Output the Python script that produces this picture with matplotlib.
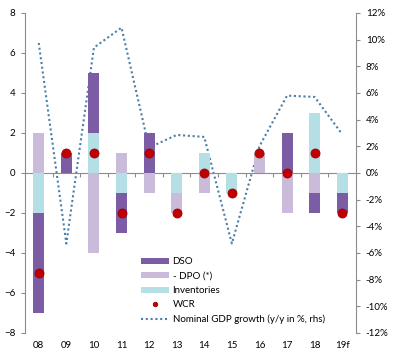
import numpy as np
import matplotlib
matplotlib.use("Agg")
import matplotlib.pyplot as plt
from matplotlib.ticker import FuncFormatter

plt.rcParams['font.family'] = ['Lato', 'DejaVu Sans']

years = ["08", "09", "10", "11", "12", "13", "14", "15", "16", "17", "18", "19f"]
dso = [-5, 1, 3, -2, 2, 0, 0, 0, 0, 2, -1, -1]
dpo = [2, 0, -4, 1, -1, -1, -1, 0, 1, -2, -1, 0]
inventories = [-2, 0, 2, -1, 0, -1, 1, -1, 0, 0, 3, -1]
wcr = [-5, 1, 1, -2, 1, -2, 0, -1, 1, 0, 1, -2]
gdp = [9.75, -5.3, 9.4, 10.9, 1.9, 2.85, 2.7, -5.3, 2.0, 5.8, 5.7, 2.9]

c_dso = "#7b5ca5"
c_dpo = "#c9bbd9"
c_inv = "#b3dfe5"
c_wcr = "#c00000"
c_gdp = "#4a7fa8"
grey = "#8c8c8c"

fig = plt.figure(figsize=(3.96, 3.61), dpi=100)
ax = fig.add_axes([0.063, 0.078, 0.836, 0.886])
ax2 = ax.twinx()
ax.set_zorder(2)
ax.patch.set_visible(False)

x = np.arange(len(years))
w = 0.4

# stack positives and negatives separately, in order inventories, dpo, dso
series = [(inventories, c_inv, "Inventories"), (dpo, c_dpo, "- DPO (*)"), (dso, c_dso, "DSO")]
pos_base = np.zeros(len(x))
neg_base = np.zeros(len(x))
handles = {}
for vals, col, lab in series:
    v = np.array(vals, dtype=float)
    bottoms = np.where(v >= 0, pos_base, neg_base)
    b = ax.bar(x, v, w, bottom=bottoms, color=col, label=lab, zorder=2)
    handles[lab] = b
    pos_base += np.where(v > 0, v, 0)
    neg_base += np.where(v < 0, v, 0)

dots, = ax.plot(x, wcr, 'o', color=c_wcr, markersize=6.5, markeredgecolor="#a00000",
                markeredgewidth=0.6, linestyle='none', zorder=4, label="WCR")

line, = ax2.plot(x, gdp, color=c_gdp, linestyle=(0, (1, 1.3)), linewidth=1.5,
                 label="Nominal GDP growth (y/y in %, rhs)")

ax.set_xlim(-0.5, len(x) - 0.5)
ax.set_ylim(-8, 8)
ax.set_yticks(np.arange(-8, 9, 2))
ax2.set_ylim(-12, 12)
ax2.set_yticks(np.arange(-12, 13, 2))
ax2.yaxis.set_major_formatter(FuncFormatter(lambda v, p: f"{v:.0f}%"))

for a in (ax, ax2):
    a.spines['top'].set_visible(False)
    a.spines['bottom'].set_visible(False)
    a.spines['left'].set_color(grey)
    a.spines['right'].set_color(grey)
ax.spines['right'].set_visible(False)
ax2.spines['left'].set_visible(False)

ax.tick_params(axis='y', labelsize=7, length=3, color=grey, pad=4)
ax2.tick_params(axis='y', labelsize=7, length=3, color=grey, pad=4)
ax.set_xticks(x)
ax.set_xticklabels(years)
ax.tick_params(axis='x', labelsize=7, length=0, pad=6)

# zero line with small ticks between categories
zero = ax.secondary_xaxis(0.49999)
zero.spines['bottom'].set_color(grey)
zero.spines['top'].set_visible(False)
zero.set_xticks(np.arange(0.5, len(x) - 1, 1))
zero.set_xticklabels([])
zero.tick_params(axis='x', length=3, color=grey, labelbottom=False, labeltop=False)

leg_handles = [handles["DSO"], handles["- DPO (*)"], handles["Inventories"], dots, line]
leg_labels = ["DSO", "- DPO (*)", "Inventories", "WCR", "Nominal GDP growth (y/y in %, rhs)"]
ax.legend(leg_handles, leg_labels, loc='lower left', bbox_to_anchor=(0.345, 0.088),
          bbox_transform=fig.transFigure, frameon=False, fontsize=7,
          handlelength=2.8, handleheight=0.6, labelspacing=0.55, handletextpad=0.4,
          borderpad=0, markerscale=0.5)

fig.savefig("out.png", dpi=100)
